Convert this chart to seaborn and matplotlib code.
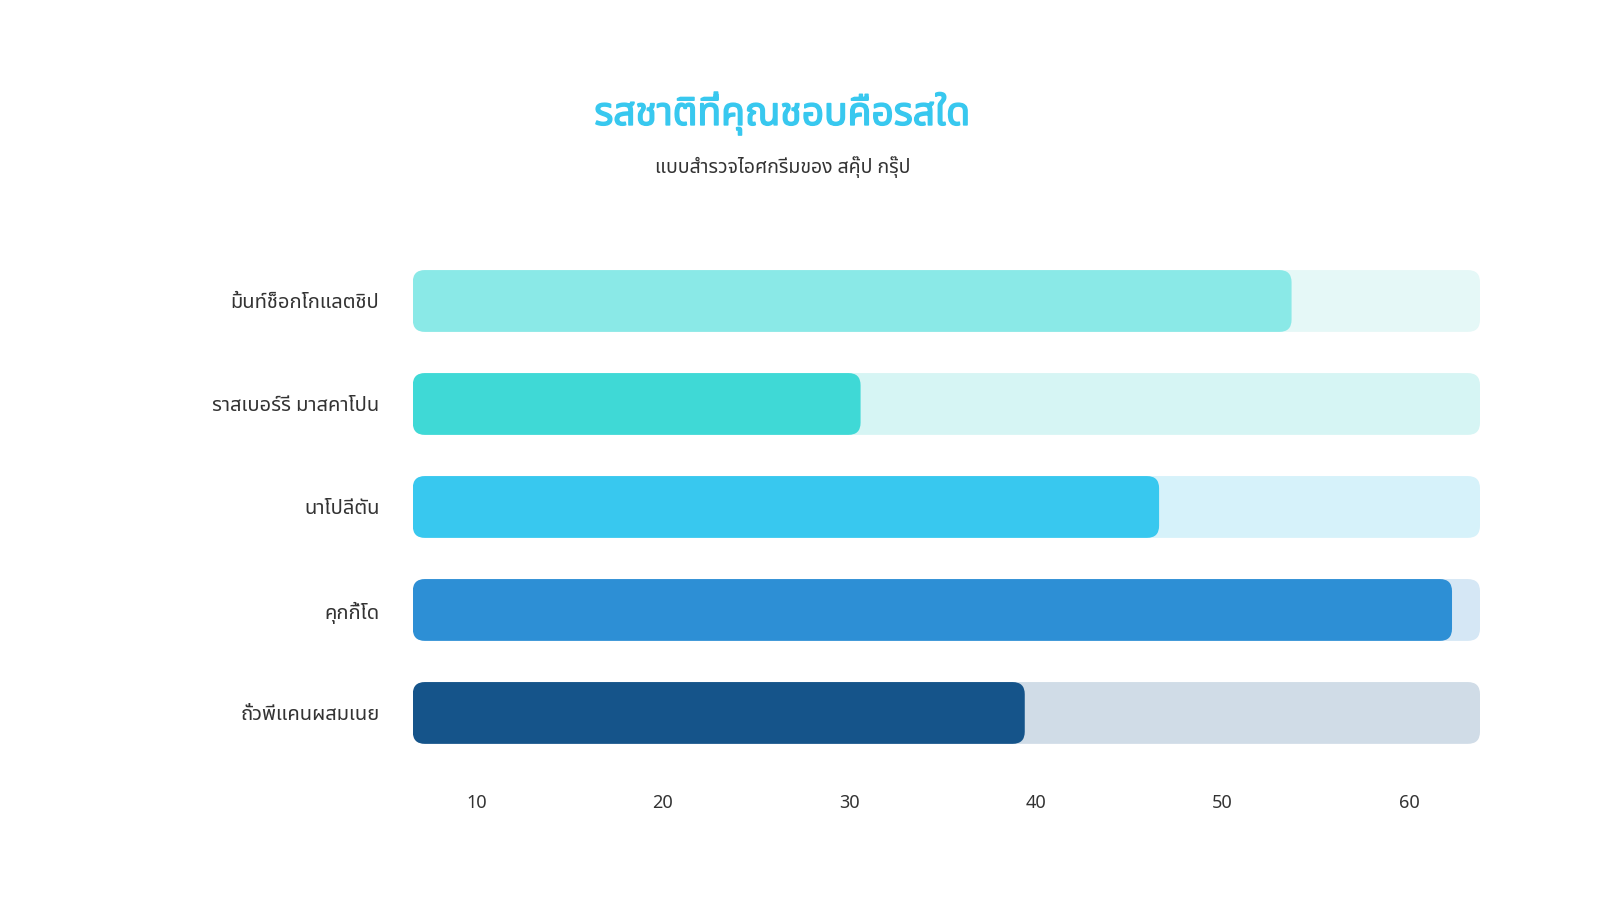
import pandas as pd
import seaborn as sns
import matplotlib.pyplot as plt
import matplotlib.patheffects as pe
from matplotlib import font_manager
from matplotlib.patches import FancyBboxPatch

flavors = ["มิ้นท์ช็อกโกแลตชิป", "ราสเบอร์รี มาสคาโปน", "นาโปลีตัน", "คุกกี้โด", "ถั่วพีแคนผสมเนย"]
votes = [53.7, 30.6, 46.6, 62.3, 39.4]
track_max = 63.8
axis_min = 6.6
tick_values = [10, 20, 30, 40, 50, 60]

bar_colors = ["#8AE9E7", "#3FD9D6", "#38C8EF", "#2D8FD5", "#15548A"]
track_colors = ["#E5F8F7", "#D6F5F4", "#D6F2FA", "#D5E7F5", "#D0DCE7"]

title = "รสชาติที่คุณชอบคือรสใด"
subtitle = "แบบสำรวจไอศกรีมของ สคุ๊ป กรุ๊ป"

sns.set_theme(style="white")
installed = {f.name for f in font_manager.fontManager.ttflist}
wanted = ["Noto Sans Thai", "Noto Sans Thai UI", "Loma", "Garuda", "Kinnari",
          "Norasi", "Sarabun", "Kanit", "Tlwg Typo", "Waree", "DejaVu Sans"]
plt.rcParams["font.family"] = [f for f in wanted if f in installed] or ["DejaVu Sans"]

df = pd.DataFrame({"flavor": flavors, "votes": votes,
                   "track": [track_max] * len(flavors)})

fig = plt.figure(figsize=(16, 9), dpi=100)
ax = fig.add_axes([0.258, 0.1506, 0.667, 0.5722])

sns.barplot(data=df, y="flavor", x="track", ax=ax, width=0.6, saturation=1,
            palette=track_colors, hue="flavor", legend=False)
sns.barplot(data=df, y="flavor", x="votes", ax=ax, width=0.6, saturation=1,
            palette=bar_colors, hue="flavor", legend=False)

ax.set_xlim(axis_min, track_max)
ax.set_ylim(4.5, -0.5)

# swap plain rectangles for rounded ones
aspect = (1 / 103) / (1 / 18.66)
for p in list(ax.patches):
    x0, y0 = p.get_x(), p.get_y()
    w, h = p.get_width(), p.get_height()
    left = max(x0, axis_min)
    rb = FancyBboxPatch((left, y0), x0 + w - left, h,
                        boxstyle="round,pad=0,rounding_size=0.65",
                        mutation_aspect=aspect,
                        facecolor=p.get_facecolor(), edgecolor="none",
                        zorder=p.get_zorder())
    p.remove()
    ax.add_patch(rb)

ax.set_xticks(tick_values)
ax.set_xticklabels([str(t) for t in tick_values])
ax.tick_params(axis="x", length=0, pad=21, labelsize=13, labelcolor="#333333")
ax.tick_params(axis="y", length=0, pad=24, labelsize=14.5, labelcolor="#333333")
ax.set_xlabel("")
ax.set_ylabel("")
sns.despine(ax=ax, left=True, bottom=True)

fig.text(0.489, 0.874, title, ha="center", va="center", fontsize=28,
         fontweight="bold", color="#38C8EF",
         path_effects=[pe.withStroke(linewidth=1.1, foreground="#38C8EF")])
fig.text(0.489, 0.814, subtitle, ha="center", va="center", fontsize=14,
         color="#333333")

fig.savefig("out.png", dpi=100, facecolor="white")
